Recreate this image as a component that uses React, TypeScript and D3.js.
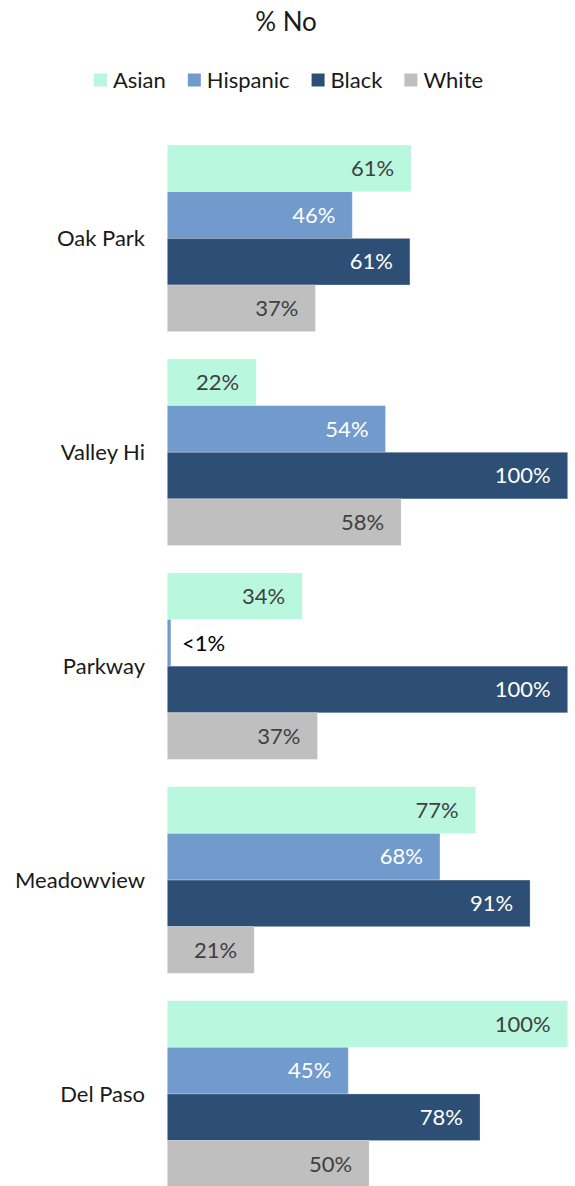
import React, { useEffect, useRef } from "react";
import { select, scaleBand, scaleLinear } from "d3";

// data
const categories = ["Oak Park", "Valley Hi", "Parkway", "Meadowview", "Del Paso"];
const seriesNames = ["Asian", "Hispanic", "Black", "White"];
const asian = [60.9, 22.2, 33.7, 77, 100];
const hispanic = [46.2, 54.5, 0.9, 68.1, 45.2];
const black = [60.6, 100, 100, 90.6, 78.1];
const white = [37, 58.4, 37.5, 21.7, 50.4];
const valueLabels = [
  ["61%", "46%", "61%", "37%"],
  ["22%", "54%", "100%", "58%"],
  ["34%", "<1%", "100%", "37%"],
  ["77%", "68%", "91%", "21%"],
  ["100%", "45%", "78%", "50%"],
];
const colors = ["#BAF7DF", "#729BCD", "#2D4F76", "#BFBFBF"];
const labelColors = ["#404040", "#FFFFFF", "#FFFFFF", "#404040"];

const W = 575;
const H = 1186;
const FONT = "Lato, 'Open Sans', sans-serif";

export default function App() {
  const svgRef = useRef<SVGSVGElement>(null);

  useEffect(() => {
    const svg = select(svgRef.current!);
    svg.selectAll("*").remove();

    const x = scaleLinear().domain([0, 100]).range([167.3, 567.7]);
    const y0 = scaleBand().domain(categories).range([131.4, 1200.9]).paddingInner(0.128).paddingOuter(0.064);
    const y1 = scaleBand().domain(seriesNames).range([0, y0.bandwidth()]);

    const rows = categories.map((c, i) => ({
      cat: c,
      values: [asian[i], hispanic[i], black[i], white[i]],
      labels: valueLabels[i],
    }));

    // title
    svg.append("text")
      .attr("x", 286)
      .attr("y", 22)
      .attr("text-anchor", "middle")
      .attr("dy", "0.35em")
      .style("font-family", FONT)
      .style("font-size", "26px")
      .attr("fill", "#1a1a1a")
      .text("% No");

    // legend, laid out from measured text widths
    const legend = svg.append("g");
    const items = legend.selectAll("g.item")
      .data(seriesNames)
      .join("g")
      .attr("class", "item");
    items.append("rect")
      .attr("width", 13)
      .attr("height", 13)
      .attr("y", 73.5)
      .attr("fill", (_d, i) => colors[i]);
    items.append("text")
      .attr("x", 19)
      .attr("y", 80)
      .attr("dy", "0.35em")
      .style("font-family", FONT)
      .style("font-size", "22px")
      .attr("fill", "#1a1a1a")
      .text((d) => d);
    let cx = 0;
    const offs: number[] = [];
    items.each(function () {
      offs.push(cx);
      const t = select(this).select("text").node() as SVGTextElement;
      cx += 19 + t.getComputedTextLength() + 22;
    });
    const total = cx - 22;
    const startX = 288.5 - total / 2;
    items.attr("transform", (_d, i) => `translate(${startX + offs[i]},0)`);

    // groups
    const g = svg.selectAll("g.grp")
      .data(rows)
      .join("g")
      .attr("class", "grp")
      .attr("transform", (d) => `translate(0,${y0(d.cat)})`);

    g.append("text")
      .attr("x", 145)
      .attr("y", y0.bandwidth() / 2)
      .attr("dy", "0.35em")
      .attr("text-anchor", "end")
      .style("font-family", FONT)
      .style("font-size", "22px")
      .attr("fill", "#1a1a1a")
      .text((d) => d.cat);

    const bars = g.selectAll("g.bar")
      .data((d) => d.values.map((v, i) => ({ v, i, label: d.labels[i] })))
      .join("g")
      .attr("class", "bar");

    bars.append("rect")
      .attr("x", x(0))
      .attr("y", (d) => y1(seriesNames[d.i])!)
      .attr("width", (d) => x(d.v) - x(0))
      .attr("height", y1.bandwidth())
      .attr("fill", (d) => colors[d.i])
      .attr("stroke", "#ffffff")
      .attr("stroke-opacity", 0.35)
      .attr("stroke-width", 0.75);

    bars.append("text")
      .attr("x", (d) => (d.v < 5 ? x(d.v) + 11 : x(d.v) - 17))
      .attr("y", (d) => y1(seriesNames[d.i])! + y1.bandwidth() / 2)
      .attr("dy", "0.35em")
      .attr("text-anchor", (d) => (d.v < 5 ? "start" : "end"))
      .style("font-family", FONT)
      .style("font-size", "22px")
      .attr("fill", (d) => (d.v < 5 ? "#000000" : labelColors[d.i]))
      .text((d) => d.label);
  }, []);

  return (
    <div style={{ width: W, height: H, background: "#fff" }}>
      <style>{`body{margin:0}`}</style>
      <svg ref={svgRef} width={W} height={H} style={{ display: "block" }} />
    </div>
  );
}
